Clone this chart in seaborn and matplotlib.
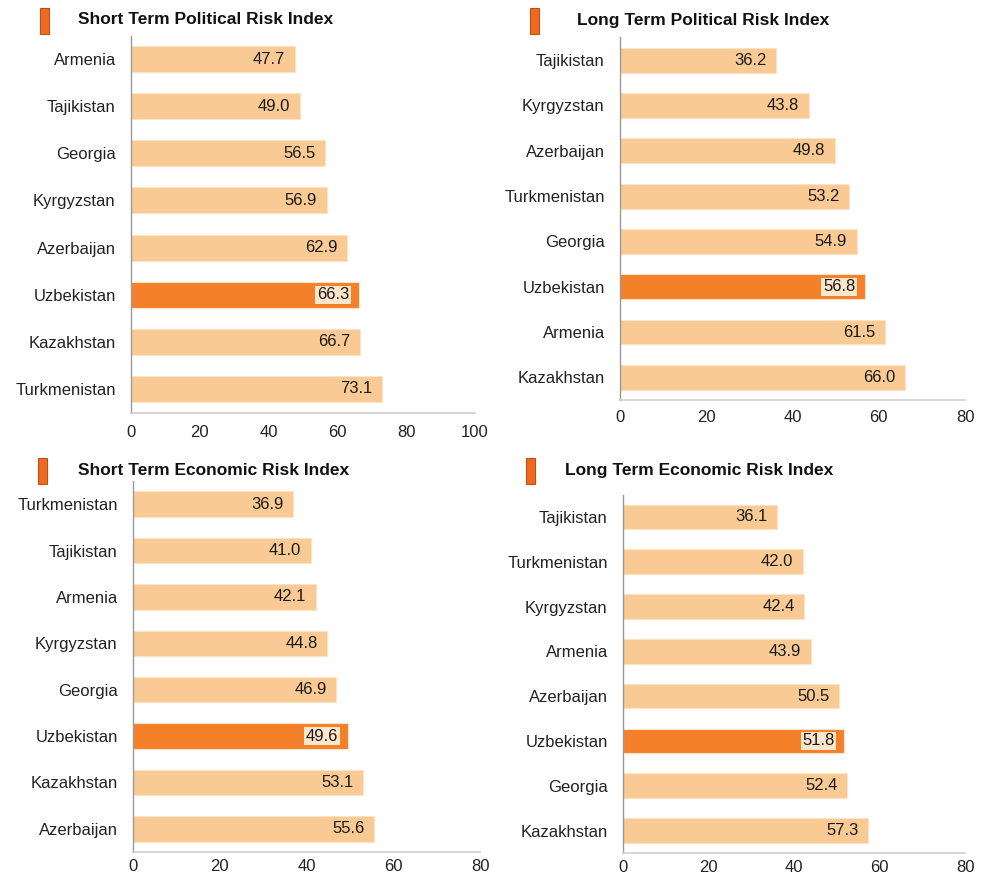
import matplotlib
matplotlib.use("Agg")
import matplotlib.pyplot as plt
from matplotlib.patches import Rectangle
import seaborn as sns
import pandas as pd

# ---- data ----
st_pol_countries = ["Armenia", "Tajikistan", "Georgia", "Kyrgyzstan",
                    "Azerbaijan", "Uzbekistan", "Kazakhstan", "Turkmenistan"]
st_pol_values = [47.7, 49.0, 56.5, 56.9, 62.9, 66.3, 66.7, 73.1]

lt_pol_countries = ["Tajikistan", "Kyrgyzstan", "Azerbaijan", "Turkmenistan",
                    "Georgia", "Uzbekistan", "Armenia", "Kazakhstan"]
lt_pol_values = [36.2, 43.8, 49.8, 53.2, 54.9, 56.8, 61.5, 66.0]

st_eco_countries = ["Turkmenistan", "Tajikistan", "Armenia", "Kyrgyzstan",
                    "Georgia", "Uzbekistan", "Kazakhstan", "Azerbaijan"]
st_eco_values = [36.9, 41.0, 42.1, 44.8, 46.9, 49.6, 53.1, 55.6]

lt_eco_countries = ["Tajikistan", "Turkmenistan", "Kyrgyzstan", "Armenia",
                    "Azerbaijan", "Uzbekistan", "Georgia", "Kazakhstan"]
lt_eco_values = [36.1, 42.0, 42.4, 43.9, 50.5, 51.8, 52.4, 57.3]

titles = ["Short Term Political Risk Index", "Long Term Political Risk Index",
          "Short Term Economic Risk Index", "Long Term Economic Risk Index"]
x_max = [100, 80, 80, 80]
highlight = "Uzbekistan"

LIGHT = "#F9CA93"
DARK = "#F5802A"
ICON = "#EE6A1E"

sns.set_theme(style="white")
plt.rcParams["font.family"] = ["Liberation Sans", "DejaVu Sans"]

fig = plt.figure(figsize=(9.88, 8.81), dpi=100)
W, H = 988, 881

# axes boxes in pixels: left, top, right(x at xmax), bottom
boxes = [(131, 35.5, 475, 412.5),
         (620, 37.5, 965, 400),
         (133, 481, 480, 852),
         (623, 494.5, 965, 853)]
# title/icon positions in pixels: icon left, icon top, title x, title y
heads = [(40, 8, 78, 20),
         (530, 8, 577, 20),
         (38, 458, 78, 470),
         (526, 458, 565, 470)]
x_pads = [9, 7, 5, 5]

panels = [(st_pol_countries, st_pol_values),
          (lt_pol_countries, lt_pol_values),
          (st_eco_countries, st_eco_values),
          (lt_eco_countries, lt_eco_values)]

for i, (countries, values) in enumerate(panels):
    l, t, r, b = boxes[i]
    ax = fig.add_axes([l / W, 1 - b / H, (r - l) / W, (b - t) / H])
    df = pd.DataFrame({"country": countries, "value": values})
    pal = {c: (DARK if c == highlight else LIGHT) for c in countries}
    sns.barplot(data=df, y="country", x="value", hue="country", palette=pal,
                legend=False, width=0.55, saturation=1, ax=ax,
                edgecolor="#FCE3C6", linewidth=0.8)
    ax.set_xlim(0, x_max[i])
    ax.set_xticks(range(0, x_max[i] + 1, 20))
    ax.set_xlabel("")
    ax.set_ylabel("")
    ax.tick_params(axis="both", length=0, labelsize=12, colors="#222222")
    ax.tick_params(axis="y", pad=11)
    ax.tick_params(axis="x", pad=x_pads[i])
    for s in ["top", "right"]:
        ax.spines[s].set_visible(False)
    ax.spines["left"].set_color("#9a9a9a")
    ax.spines["bottom"].set_color("#cfcfcf")
    ax.spines["left"].set_linewidth(1.0)
    ax.spines["bottom"].set_linewidth(1.2)

    for c, v in zip(countries, values):
        kw = {}
        if c == highlight:
            kw["bbox"] = dict(boxstyle="square,pad=0.1", fc="#FCE6CC", ec="none")
        ax.annotate(f"{v:.1f}", xy=(v, c), xytext=(-7, 0),
                    textcoords="offset points", ha="right", va="center",
                    fontsize=12, color="#1a1a1a", **kw)

    il, it, tx, ty = heads[i]
    fig.patches.append(Rectangle((il / W, 1 - (it + 26) / H), 9 / W, 26 / H,
                                 transform=fig.transFigure, fc=ICON,
                                 ec="#C0501A", lw=0.8))
    fig.text(tx / W, 1 - ty / H, titles[i], ha="left", va="center",
             fontsize=12.5, fontweight="bold", color="#111111")

fig.savefig("out.png", dpi=100)
